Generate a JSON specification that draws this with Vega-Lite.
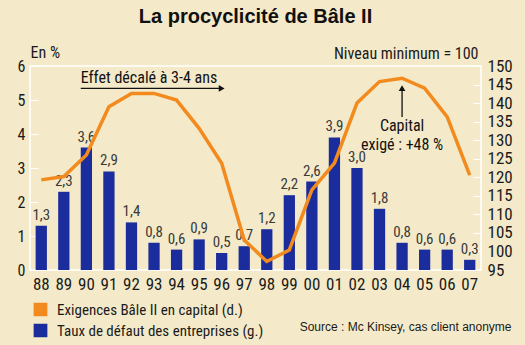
{
  "$schema": "https://vega.github.io/schema/vega-lite/v6.json",
  "width": 451,
  "height": 204,
  "autosize": {"type": "none"},
  "padding": {"left": 30, "top": 66, "right": 44, "bottom": 75},
  "background": "#f4eac9",
  "title": {"text": "La procyclicité de Bâle II", "fontSize": 20, "font": "Liberation Sans", "fontWeight": "bold", "color": "#111111", "anchor": "middle", "offset": 17},
  "config": {
    "font": "Roboto Condensed, Noto Sans Condensed, Open Sans Condensed, Liberation Sans Narrow, Roboto",
    "view": {"stroke": "#ffffff", "strokeWidth": 1.5},
    "axis": {"labelColor": "#1a1a1a", "titleColor": "#1a1a1a", "domain": false, "grid": false, "labelOverlap": false}
  },
  "data": {"values": [
    {"year": "88", "rate": 1.3, "lab": "1,3", "cap": 119.3},
    {"year": "89", "rate": 2.3, "lab": "2,3", "cap": 120.2},
    {"year": "90", "rate": 3.6, "lab": "3,6", "cap": 126.0},
    {"year": "91", "rate": 2.9, "lab": "2,9", "cap": 139.0},
    {"year": "92", "rate": 1.4, "lab": "1,4", "cap": 142.6},
    {"year": "93", "rate": 0.8, "lab": "0,8", "cap": 142.6},
    {"year": "94", "rate": 0.6, "lab": "0,6", "cap": 140.8},
    {"year": "95", "rate": 0.9, "lab": "0,9", "cap": 133.2},
    {"year": "96", "rate": 0.5, "lab": "0,5", "cap": 123.8},
    {"year": "97", "rate": 0.7, "lab": "0,7", "cap": 103.1},
    {"year": "98", "rate": 1.2, "lab": "1,2", "cap": 97.3},
    {"year": "99", "rate": 2.2, "lab": "2,2", "cap": 100.4},
    {"year": "00", "rate": 2.6, "lab": "2,6", "cap": 116.6},
    {"year": "01", "rate": 3.9, "lab": "3,9", "cap": 123.8},
    {"year": "02", "rate": 3.0, "lab": "3,0", "cap": 140.0},
    {"year": "03", "rate": 1.8, "lab": "1,8", "cap": 145.8},
    {"year": "04", "rate": 0.8, "lab": "0,8", "cap": 146.7},
    {"year": "05", "rate": 0.6, "lab": "0,6", "cap": 144.0},
    {"year": "06", "rate": 0.6, "lab": "0,6", "cap": 136.3},
    {"year": "07", "rate": 0.3, "lab": "0,3", "cap": 120.6}
  ]},
  "layer": [
    {
      "layer": [
        {
          "mark": {"type": "bar"},
          "encoding": {
            "x": {"field": "year", "type": "ordinal",
              "scale": {"domain": ["88","89","90","91","92","93","94","95","96","97","98","99","00","01","02","03","04","05","06","07"], "paddingInner": 0.5, "paddingOuter": 0.25},
              "axis": {"labelAngle": 0, "labelFontSize": 17, "labelPadding": 6, "ticks": false,
                "title": "Source : Mc Kinsey, cas client anonyme", "titleFont": "Liberation Sans", "titleFontSize": 12, "titleFontWeight": "normal",
                "titleAlign": "right", "titleAnchor": "end", "titleX": 481, "titleY": 56, "titleBaseline": "middle"}},
            "y": {"field": "rate", "type": "quantitative", "scale": {"domain": [0, 6], "nice": false},
              "axis": {"values": [0,1,2,3,4,5,6], "labelOverlap": false, "tickCount": 7, "labelFontSize": 16, "tickColor": "#ffffff", "tickSize": -8, "labelPadding": 13,
                "title": "En %", "titleAngle": 0, "titleAlign": "left", "titleBaseline": "middle", "titleX": 0, "titleY": -14, "titleFontSize": 16, "titleFontWeight": "normal"}},
            "color": {"datum": "Taux de défaut des entreprises (g.)",
              "scale": {"domain": ["Exigences Bâle II en capital (d.)", "Taux de défaut des entreprises (g.)"], "range": ["#f28a1e", "#1b2c9c"]},
              "legend": {"title": null, "orient": "none", "legendX": 3, "legendY": 236, "symbolType": "square", "symbolSize": 150, "labelFontSize": 15, "labelColor": "#1a1a1a", "labelLimit": 400, "rowPadding": 2, "labelOffset": 9}}
          }
        },
        {
          "mark": {"type": "text", "baseline": "bottom", "dy": -3, "fontSize": 15, "color": "#3a3a3a"},
          "encoding": {
            "x": {"field": "year", "type": "ordinal"},
            "y": {"field": "rate", "type": "quantitative"},
            "text": {"field": "lab"}
          }
        },
        {
          "data": {"values": [{"year": "90", "v": 5.66, "t": "Effet décalé à 3-4 ans"}]},
          "mark": {"type": "text", "align": "left", "baseline": "middle", "fontSize": 16, "color": "#111111"},
          "encoding": {
            "x": {"field": "year", "type": "ordinal", "bandPosition": 0},
            "y": {"field": "v", "type": "quantitative"},
            "text": {"field": "t"}
          }
        },
        {
          "data": {"values": [{"year": "90", "year2": "96", "v": 5.34}]},
          "mark": {"type": "rule", "color": "#111111", "strokeWidth": 1.3},
          "encoding": {
            "x": {"field": "year", "type": "ordinal", "bandPosition": 0},
            "x2": {"field": "year2"},
            "y": {"field": "v", "type": "quantitative"}
          }
        },
        {
          "data": {"values": [{"year": "96", "v": 5.34}]},
          "mark": {"type": "point", "shape": "triangle-right", "filled": true, "size": 45, "color": "#111111", "opacity": 1},
          "encoding": {
            "x": {"field": "year", "type": "ordinal"},
            "y": {"field": "v", "type": "quantitative"}
          }
        },
        {
          "data": {"values": [{"year": "04", "v": 4.24, "t": "Capital"}, {"year": "04", "v": 3.68, "t": "exigé : +48 %"}]},
          "mark": {"type": "text", "align": "center", "baseline": "middle", "fontSize": 16, "color": "#111111"},
          "encoding": {
            "x": {"field": "year", "type": "ordinal"},
            "y": {"field": "v", "type": "quantitative"},
            "text": {"field": "t"}
          }
        },
        {
          "data": {"values": [{"year": "04", "v": 4.5, "v2": 5.3}]},
          "mark": {"type": "rule", "color": "#111111", "strokeWidth": 1.3},
          "encoding": {
            "x": {"field": "year", "type": "ordinal"},
            "y": {"field": "v", "type": "quantitative"},
            "y2": {"field": "v2"}
          }
        },
        {
          "data": {"values": [{"year": "04", "v": 5.35}]},
          "mark": {"type": "point", "shape": "triangle-up", "filled": true, "size": 45, "color": "#111111", "opacity": 1},
          "encoding": {
            "x": {"field": "year", "type": "ordinal"},
            "y": {"field": "v", "type": "quantitative"}
          }
        }
      ]
    },
    {
      "mark": {"type": "line", "strokeWidth": 3.5},
      "encoding": {
        "x": {"field": "year", "type": "ordinal"},
        "y": {"field": "cap", "type": "quantitative", "scale": {"domain": [95, 150], "nice": false, "zero": false},
          "axis": {"orient": "right", "values": [95,100,105,110,115,120,125,130,135,140,145,150], "labelFontSize": 17, "tickColor": "#ffffff", "tickSize": -8, "labelPadding": 14,
            "title": "Niveau minimum = 100", "titleAngle": 0, "titleAlign": "right", "titleBaseline": "middle", "titleX": -3, "titleY": -13, "titleFontSize": 16, "titleFontWeight": "normal"}},
        "color": {"datum": "Exigences Bâle II en capital (d.)", "legend": null}
      }
    }
  ],
  "resolve": {"scale": {"y": "independent"}}
}
